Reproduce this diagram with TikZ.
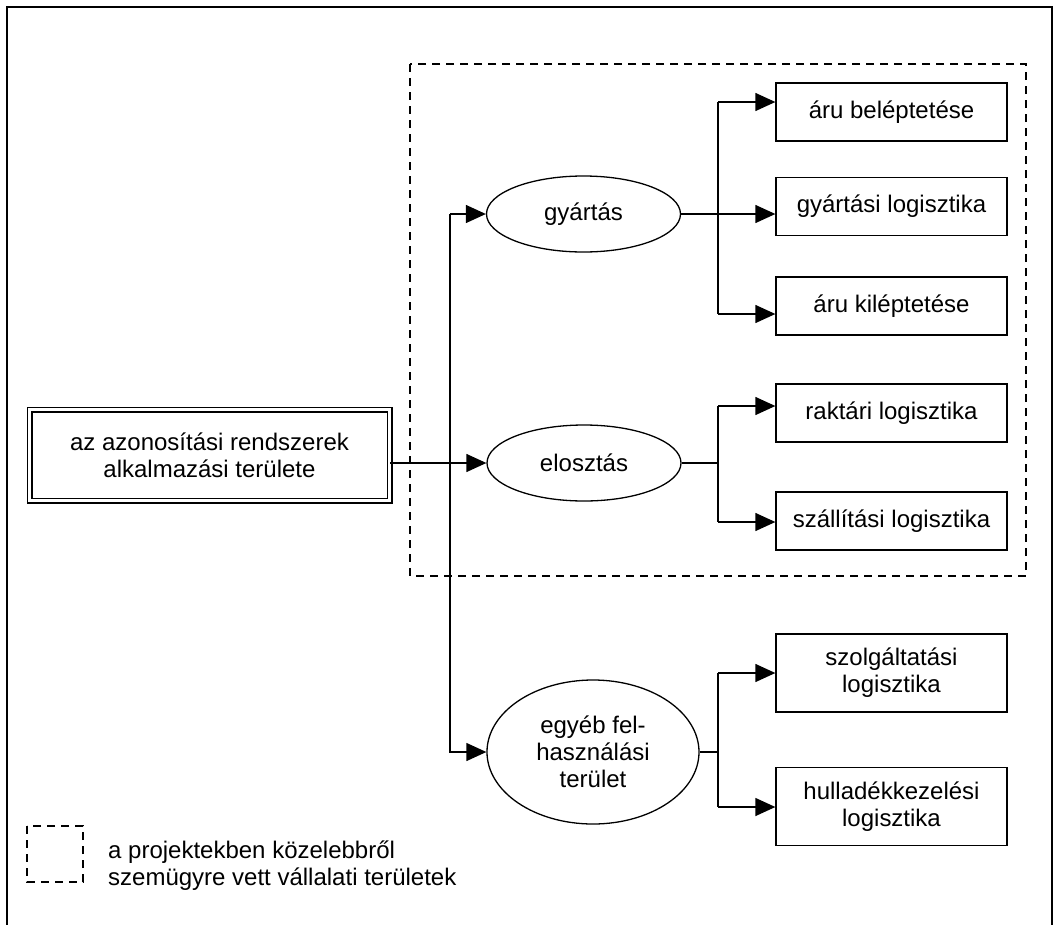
\documentclass[tikz,border=0pt]{standalone}
\usepackage{fontspec}
\setmainfont{Liberation Sans}
\usetikzlibrary{arrows.meta,shapes.geometric}
\begin{document}
\begin{tikzpicture}[x=1pt,y=-1pt,
  every node/.style={font=\fontsize{24}{27}\selectfont, align=center, inner sep=0pt},
  ln/.style={line width=1.3pt},
  arr/.style={ln,-{Triangle[length=20pt,width=18pt]}},
  leaf/.style={draw,ln,minimum width=231pt,minimum height=58pt},
  leaftwo/.style={draw,ln,minimum width=231pt,minimum height=78pt},
  ell/.style={draw,ln,ellipse,minimum width=194pt,minimum height=76pt},
  dashbox/.style={line width=1.6pt,dash pattern=on 8pt off 6pt},
  frame/.style={line width=2pt}]
\useasboundingbox (0,0) rectangle (1055,924);
% outer frame
\draw[frame] (7,930) -- (7,7) -- (1052,7) -- (1052,930);
% dashed region
\draw[dashbox] (410,64) rectangle (1026,576);
% main box
\node[draw, double, double distance=3pt, line width=1.5pt,
      minimum width=360pt, minimum height=91pt] (main) at (209.5,455)
  {az azonosítási rendszerek\\alkalmazási területe};
% ellipses
\node[ell] (gy) at (583.5,214) {gyártás};
\node[ell] (el) at (584,463) {elosztás};
\node[ell, minimum width=212pt, minimum height=144pt] (eg) at (593,752)
  {egyéb fel-\\használási\\terület};
% leaves
\node[leaf] (b1) at (891.5,112) {áru beléptetése};
\node[leaf] (b2) at (891.5,206.5) {gyártási logisztika};
\node[leaf] (b3) at (891.5,306) {áru kiléptetése};
\node[leaf] (b4) at (891.5,413) {raktári logisztika};
\node[leaf] (b5) at (891.5,521) {szállítási logisztika};
\node[leaftwo] (b6) at (891.5,673) {szolgáltatási\\logisztika};
\node[leaftwo] (b7) at (891.5,806.5) {hulladékkezelési\\logisztika};
% trunk
\coordinate (t1) at (450,214);
\coordinate (t3) at (450,753);
\draw[ln] (t1) -- (t3);
\draw[arr] (t1) -- (gy.west);
\draw[arr] (main.east |- el.west) -- (el.west);
\draw[arr] (450,752) -- (eg.west);
% gyártás branch
\coordinate (v1) at (718,102);
\coordinate (v3) at (718,314);
\draw[ln] (v1) -- (v3);
\draw[arr] (v1) -- (b1.west |- v1);
\draw[arr] (gy.east) -- (b2.west |- gy.east);
\draw[arr] (v3) -- (b3.west |- v3);
% elosztás branch
\coordinate (v4) at (718,406);
\coordinate (v5) at (718,522);
\draw[ln] (el.east) -- (el.east -| v4);
\draw[ln] (v4) -- (v5);
\draw[arr] (v4) -- (b4.west |- v4);
\draw[arr] (v5) -- (b5.west |- v5);
% egyéb branch
\coordinate (v6) at (718,673);
\coordinate (v7) at (718,807);
\draw[ln] (eg.east) -- (eg.east -| v6);
\draw[ln] (v6) -- (v7);
\draw[arr] (v6) -- (b6.west |- v6);
\draw[arr] (v7) -- (b7.west |- v7);
% legend
\draw[dashbox] (27,826) rectangle (83,882);
\node[anchor=west, align=left] (leg) at (108,866)
  {a projektekben közelebbről\\szemügyre vett vállalati területek};
\end{tikzpicture}
\end{document}
